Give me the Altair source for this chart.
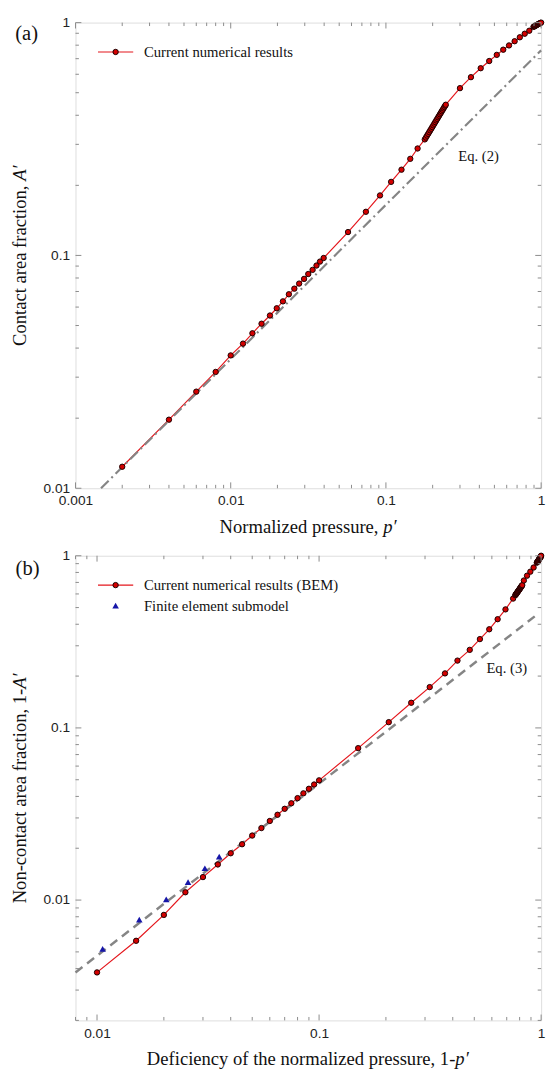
import altair as alt
import pandas as pd

# ---------------- data : panel (a) ----------------
a_p = [0.002, 0.004, 0.006, 0.008, 0.010, 0.012, 0.0138, 0.0158, 0.0179, 0.0198,
       0.0217, 0.0237, 0.0257, 0.0276, 0.0297, 0.0316, 0.0337, 0.0357, 0.0376, 0.0397,
       0.057, 0.0743, 0.0916, 0.108, 0.126, 0.1435, 0.160,
       0.178, 0.181, 0.184, 0.187, 0.190, 0.193, 0.196, 0.199, 0.202, 0.205, 0.208,
       0.211, 0.214, 0.217, 0.220, 0.223, 0.226, 0.229, 0.232, 0.235, 0.238, 0.241, 0.243,
       0.300, 0.353, 0.408, 0.463, 0.518, 0.570, 0.621, 0.675, 0.729, 0.784, 0.839, 0.893,
       0.900, 0.910, 0.920, 0.930, 0.940, 0.950, 0.960, 0.970, 0.980, 0.990, 1.000]
a_A = [0.01237, 0.0197, 0.0260, 0.0316, 0.0372, 0.0418, 0.0463, 0.0509, 0.0552, 0.0593,
       0.0635, 0.0681, 0.0720, 0.0757, 0.0793, 0.0832, 0.0867, 0.0905, 0.0941, 0.0975,
       0.126, 0.154, 0.181, 0.207, 0.2335, 0.260, 0.288,
       0.315, 0.3208, 0.327, 0.3326, 0.3385, 0.3444, 0.350, 0.356, 0.362, 0.368, 0.374,
       0.380, 0.386, 0.392, 0.398, 0.404, 0.410, 0.416, 0.422, 0.428, 0.434, 0.440, 0.444,
       0.523, 0.583, 0.637, 0.684, 0.727, 0.765, 0.798, 0.832, 0.865, 0.896, 0.923, 0.959,
       0.962, 0.966, 0.970, 0.974, 0.978, 0.982, 0.986, 0.990, 0.993, 0.997, 1.000]
eq2_p = [0.00146, 1.0]
eq2_A = [0.0100, 0.760]

# ---------------- data : panel (b) ----------------
b_q = [0.010, 0.015, 0.020, 0.025, 0.030, 0.035, 0.040, 0.045, 0.050, 0.055, 0.060,
       0.065, 0.070, 0.075, 0.080, 0.085, 0.090, 0.095, 0.100, 0.150,
       0.206, 0.260, 0.315, 0.369, 0.420, 0.477, 0.530, 0.584, 0.637, 0.691, 0.748,
       0.765, 0.768, 0.771, 0.774, 0.777, 0.780, 0.783, 0.786, 0.789, 0.792, 0.795,
       0.798, 0.801, 0.804, 0.807, 0.810, 0.813, 0.816, 0.819, 0.822,
       0.836, 0.864, 0.894, 0.925, 0.956,
       0.960, 0.964, 0.968, 0.972, 0.976, 0.980, 0.984, 0.986, 0.988, 0.990, 0.992,
       0.994, 0.996, 0.998, 1.000]
b_N = [0.0038, 0.0058, 0.0082, 0.0111, 0.0136, 0.0161, 0.0187, 0.0211, 0.0237, 0.0262, 0.0288,
       0.0313, 0.0339, 0.0365, 0.0391, 0.0417, 0.0443, 0.0469, 0.0496, 0.0763,
       0.108, 0.140, 0.1726, 0.2073, 0.246, 0.284, 0.328, 0.374, 0.428, 0.488, 0.564,
       0.590, 0.5942, 0.5984, 0.6027, 0.6070, 0.6113, 0.6156, 0.6200, 0.6244, 0.6288, 0.6333,
       0.6378, 0.6423, 0.6469, 0.6515, 0.6561, 0.6608, 0.6655, 0.6702, 0.675,
       0.718, 0.766, 0.808, 0.854, 0.912,
       0.918, 0.925, 0.932, 0.940, 0.948, 0.955, 0.963, 0.967, 0.971, 0.975, 0.979,
       0.983, 0.988, 0.993, 1.000]
fe_q = [0.0106, 0.0155, 0.0205, 0.0257, 0.0306, 0.0355]
fe_N = [0.0052, 0.0077, 0.0101, 0.0127, 0.0153, 0.0179]
eq3_q = [0.008, 0.96]
eq3_N = [0.0038, 0.456]

# ---------------- text ----------------
legend_a = ["Current numerical results"]
legend_b = ["Current numerical results (BEM)", "Finite element submodel"]
eq_labels = ["Eq. (2)", "Eq. (3)"]
eq2_pos = [0.395, 0.266]
eq3_pos = [0.70, 0.224]
panel_tags = ["(a)", "(b)"]
# axis titles: plain part + italic part
xtitle_a = ["Normalized pressure,", "p′"]
ytitle_a = ["Contact area fraction,", "A′"]
xtitle_b = ["Deficiency of the normalized pressure, 1-", "p′"]
ytitle_b = ["Non-contact area fraction, 1-", "A′"]

# ticks
a_x_major = [0.001, 0.01, 0.1, 1]
a_y_major = [0.01, 0.1, 1]
b_x_major = [0.01, 0.1, 1]
b_y_major = [0.01, 0.1, 1]
a_x_minor = [m * d for d in (0.001, 0.01, 0.1) for m in range(2, 10)]
a_y_minor = [m * d for d in (0.01, 0.1) for m in range(2, 10)]
b_x_minor = [0.008, 0.009] + [m * d for d in (0.01, 0.1) for m in range(2, 10)]
b_y_minor = [m * 0.001 for m in range(2, 10)] + [m * d for d in (0.01, 0.1) for m in range(2, 10)]

SANS = "Liberation Sans"
SERIF = "Liberation Serif"
GRAY = "#8a8a8a"
RED = "#e4161c"
RED_FILL = "#d40000"
DARK = "#1a0000"
BLUE = "#1616a8"
W = 476
HA = 476
HB = 475
TFS = 19  # axis title font size
EM = TFS


def axis(values):
    return alt.Axis(title=None, values=values, format="~g", ticks=False, domain=False,
                    grid=False, labelFont=SANS, labelFontSize=14, labelColor="#222",
                    labelPadding=6, labelFlush=False, labelOverlap=False)


def title_x(parts, w1_em, w2_em, H):
    total = (w1_em + w2_em) * EM
    start = W / 2 - total / 2
    split = start + w1_em * EM
    y = H + 39.5
    return [
        alt.Chart(pd.DataFrame({"t": [parts[0]]})).mark_text(
            font=SERIF, fontSize=TFS, align="right", baseline="middle", color="#111").encode(
            x=alt.value(split), y=alt.value(y), text="t:N"),
        alt.Chart(pd.DataFrame({"t": [parts[1]]})).mark_text(
            font=SERIF, fontSize=TFS, fontStyle="italic", align="left", baseline="middle",
            color="#111").encode(x=alt.value(split + (w2_em - 0.75) * EM), y=alt.value(y), text="t:N"),
    ]


def title_y(parts, w1_em, gap_em, w2_em, H):
    total = (w1_em + gap_em + w2_em) * EM
    bottom = H / 2 + total / 2
    top1 = bottom - w1_em * EM
    start2 = top1 - gap_em * EM
    x = -57
    return [
        alt.Chart(pd.DataFrame({"t": [parts[0]]})).mark_text(
            font=SERIF, fontSize=TFS, angle=270, align="right", baseline="middle",
            color="#111").encode(x=alt.value(x), y=alt.value(top1), text="t:N"),
        alt.Chart(pd.DataFrame({"t": [parts[1]]})).mark_text(
            font=SERIF, fontSize=TFS, angle=270, fontStyle="italic", align="left",
            baseline="middle", color="#111").encode(x=alt.value(x), y=alt.value(start2), text="t:N"),
    ]


def make_panel(xsc, ysc, xax, yax, xmaj, xmin, ymaj, ymin, H, layers_fn):
    def X(f):
        return alt.X(f, scale=xsc, axis=xax)

    def Y(f):
        return alt.Y(f, scale=ysc, axis=yax)

    out = layers_fn(X, Y)
    for vals, L in ((xmaj, 6), (xmin, 3.5)):
        base = alt.Chart(pd.DataFrame({"x": vals})).mark_rule(color=GRAY, strokeWidth=1)
        out.append(base.encode(x=X("x:Q"), y=alt.value(H), y2=alt.value(H - L)))
        out.append(base.encode(x=X("x:Q"), y=alt.value(0), y2=alt.value(L)))
    for vals, L in ((ymaj, 6), (ymin, 3.5)):
        base = alt.Chart(pd.DataFrame({"y": vals})).mark_rule(color=GRAY, strokeWidth=1)
        out.append(base.encode(y=Y("y:Q"), x=alt.value(0), x2=alt.value(L)))
        out.append(base.encode(y=Y("y:Q"), x=alt.value(W), x2=alt.value(W - L)))
    return alt.layer(*out).properties(width=W, height=H)


def text_layer(t, x, y, size=15, align="left"):
    return alt.Chart(pd.DataFrame({"t": [t]})).mark_text(
        font=SERIF, fontSize=size, align=align, baseline="middle", color="#111").encode(
        x=alt.value(x), y=alt.value(y), text="t:N")


def dot_layer(x, y):
    return alt.Chart(pd.DataFrame({"k": [0]})).mark_circle(
        size=30, color=RED_FILL, opacity=1, stroke=DARK, strokeWidth=1.0).encode(
        x=alt.value(x), y=alt.value(y))


def seg_layer(x1, x2, y):
    return alt.Chart(pd.DataFrame({"k": [0]})).mark_rule(color=RED, strokeWidth=1.2).encode(
        x=alt.value(x1), x2=alt.value(x2), y=alt.value(y))


# ---------------- panel (a) ----------------
xa = alt.Scale(type="log", domain=[0.001, 1], nice=False)
ya = alt.Scale(type="log", domain=[0.01, 1], nice=False)
ax_ax = axis(a_x_major)
ax_ay = axis(a_y_major)
df_a = pd.DataFrame({"x": a_p, "y": a_A})
df_e2 = pd.DataFrame({"x": eq2_p, "y": eq2_A})
df_l2 = pd.DataFrame({"x": [eq2_pos[0]], "y": [eq2_pos[1]], "t": [eq_labels[0]]})


def layers_a(X, Y):
    return [
        alt.Chart(df_a).mark_line(color=RED, strokeWidth=1.2).encode(x=X("x:Q"), y=Y("y:Q")),
        alt.Chart(df_e2).mark_line(color="#858585", strokeWidth=2.2,
                                   strokeDash=[11, 4, 2, 4]).encode(x=X("x:Q"), y=Y("y:Q")),
        alt.Chart(df_a).mark_circle(size=30, color=RED_FILL, opacity=1, stroke=DARK,
                                    strokeWidth=1.0).encode(x=X("x:Q"), y=Y("y:Q")),
        alt.Chart(df_l2).mark_text(font=SERIF, fontSize=15, color="#111").encode(
            x=X("x:Q"), y=Y("y:Q"), text="t:N"),
        seg_layer(23, 59, 30), dot_layer(41, 30),
        text_layer(legend_a[0], 70, 30),
        text_layer(panel_tags[0], -50, 12, size=21, align="center"),
        *title_x(xtitle_a, 8.553, 1.0, HA),
        *title_y(ytitle_a, 8.636, 0.25, 0.861, HA),
    ]


chart_a = make_panel(xa, ya, ax_ax, ax_ay, a_x_major, a_x_minor, a_y_major, a_y_minor, HA, layers_a)

# ---------------- panel (b) ----------------
xb = alt.Scale(type="log", domain=[0.008, 1], nice=False)
yb = alt.Scale(type="log", domain=[0.002, 1], nice=False)
ax_bx = axis(b_x_major)
ax_by = axis(b_y_major)
df_b = pd.DataFrame({"x": b_q, "y": b_N})
df_fe = pd.DataFrame({"x": fe_q, "y": fe_N})
df_e3 = pd.DataFrame({"x": eq3_q, "y": eq3_N})
df_l3 = pd.DataFrame({"x": [eq3_pos[0]], "y": [eq3_pos[1]], "t": [eq_labels[1]]})


def layers_b(X, Y):
    return [
        alt.Chart(df_b).mark_line(color=RED, strokeWidth=1.2).encode(x=X("x:Q"), y=Y("y:Q")),
        alt.Chart(df_e3).mark_line(color="#858585", strokeWidth=2.5,
                                   strokeDash=[9, 6]).encode(x=X("x:Q"), y=Y("y:Q")),
        alt.Chart(df_b).mark_circle(size=30, color=RED_FILL, opacity=1, stroke=DARK,
                                    strokeWidth=1.0).encode(x=X("x:Q"), y=Y("y:Q")),
        alt.Chart(df_fe).mark_point(shape="triangle-up", filled=True, size=45, color=BLUE,
                                    opacity=1).encode(x=X("x:Q"), y=Y("y:Q")),
        alt.Chart(df_l3).mark_text(font=SERIF, fontSize=15, color="#111").encode(
            x=X("x:Q"), y=Y("y:Q"), text="t:N"),
        seg_layer(23, 59, 30), dot_layer(41, 30),
        alt.Chart(pd.DataFrame({"k": [0]})).mark_point(
            shape="triangle-up", filled=True, size=45, color=BLUE, opacity=1).encode(
            x=alt.value(41), y=alt.value(51)),
        text_layer(legend_b[0], 70, 30),
        text_layer(legend_b[1], 70, 51),
        text_layer(panel_tags[1], -49, 14, size=21, align="center"),
        *title_x(xtitle_b, 16.573, 0.75, HB),
        *title_y(ytitle_b, 11.551, 0.0, 0.861, HB),
    ]


chart_b = make_panel(xb, yb, ax_bx, ax_by, b_x_major, b_x_minor, b_y_major, b_y_minor, HB, layers_b)

chart = alt.vconcat(chart_a, chart_b, spacing=11).properties(
    padding={"left": 2, "top": -5, "right": 0, "bottom": 0}
).configure_view(stroke=GRAY, strokeWidth=1).configure(background="white")

chart.save("out.html", embed_options={"renderer": "svg", "actions": False})
